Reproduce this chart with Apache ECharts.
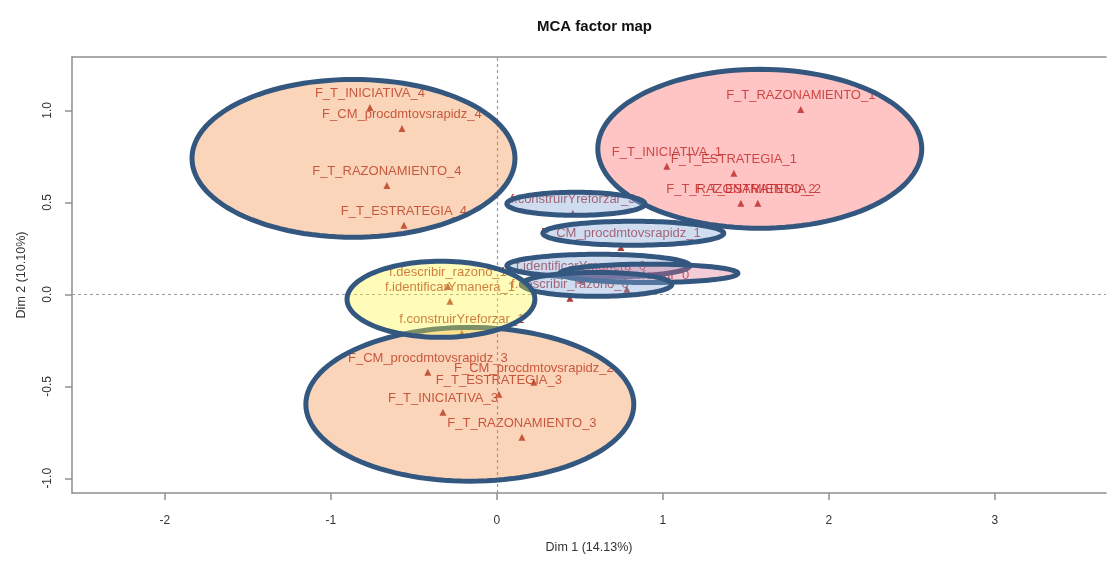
<!DOCTYPE html>
<html>
<head>
<meta charset="utf-8">
<title>MCA factor map</title>
<script src="https://cdn.jsdelivr.net/npm/echarts@6/dist/echarts.min.js"></script>
<style>
  html, body { margin: 0; padding: 0; background: #ffffff; }
  #chart { width: 1107px; height: 566px; }
</style>
</head>
<body>
<div id="chart"></div>
<script>
// Category modalities and their coordinates on the first two MCA dimensions
const categories = [
  'F_T_INICIATIVA_4', 'F_CM_procdmtovsrapidz_4', 'F_T_RAZONAMIENTO_4', 'F_T_ESTRATEGIA_4',
  'F_T_RAZONAMIENTO_1', 'F_T_INICIATIVA_1', 'F_T_ESTRATEGIA_1', 'F_T_RAZONAMIENTO_2', 'F_T_ESTRATEGIA_2',
  'f.construirYreforzar_3', 'F_CM_procdmtovsrapidz_1', 'f.identificarYmanera_0',
  'f.construirYreforzar_0', 'f.describir_razono_0',
  'f.describir_razono_1', 'f.identificarYmanera_1', 'f.construirYreforzar_1',
  'F_CM_procdmtovsrapidz_3', 'F_CM_procdmtovsrapidz_2', 'F_T_ESTRATEGIA_3',
  'F_T_INICIATIVA_3', 'F_T_RAZONAMIENTO_3'
];
const dim1 = [
  -0.765, -0.572, -0.663, -0.560,
  1.831, 1.024, 1.428, 1.470, 1.572,
  0.458, 0.747, 0.506,
  0.783, 0.440,
  -0.295, -0.283, -0.211,
  -0.416, 0.223, 0.012,
  -0.325, 0.151
];
const dim2 = [
  1.016, 0.902, 0.592, 0.375,
  1.005, 0.696, 0.658, 0.495, 0.495,
  0.440, 0.255, 0.076,
  0.027, -0.022,
  0.043, -0.038, -0.212,
  -0.424, -0.478, -0.543,
  -0.641, -0.777
];

// Groupings outlined as ellipses: centre (dim1, dim2) and semi-axes, in axis units
const ellipseCx = [-0.864, 1.584, -0.163, 0.476, 0.822, 0.611, 0.916, 0.602, -0.337];
const ellipseCy = [0.739, 0.791, -0.598, 0.492, 0.332, 0.155, 0.114, 0.054, -0.027];
const ellipseRx = [0.973, 0.976, 0.988, 0.416, 0.545, 0.551, 0.536, 0.452, 0.566];
const ellipseRy = [0.429, 0.432, 0.418, 0.0625, 0.065, 0.0625, 0.05, 0.065, 0.207];
const ellipseKind = ['peach', 'pink', 'peach', 'blue', 'blue', 'blue', 'rose', 'blue', 'yellow'];

// Axis ticks
const xTicks = [-2, -1, 0, 1, 2, 3];
const yTicks = [-1, -0.5, 0, 0.5, 1];

const ellipseFill = {
  peach: 'rgba(240, 136, 58, 0.35)',
  pink: 'rgba(255, 86, 86, 0.35)',
  blue: 'rgba(132, 162, 212, 0.38)',
  rose: 'rgba(222, 110, 140, 0.35)',
  yellow: 'rgba(255, 245, 60, 0.36)'
};

const pointData = categories.map((name, i) => [dim1[i], dim2[i], name]);
const ellipseData = ellipseCx.map((cx, i) => [cx, ellipseCy[i], ellipseRx[i], ellipseRy[i], i]);

const axisGray = '#8f8f8f';
const textGray = '#333333';
const font = 'Liberation Sans, Arial, sans-serif';

const chart = echarts.init(document.getElementById('chart'), null, { renderer: 'canvas' });

chart.setOption({
  backgroundColor: '#ffffff',
  animation: false,
  title: {
    text: 'MCA factor map',
    left: 532,
    top: 14,
    textStyle: { fontFamily: font, fontSize: 15, fontWeight: 'bold', color: '#111111' }
  },
  grid: {
    left: 72,
    top: 57,
    right: 1,
    bottom: 73,
    show: false
  },
  xAxis: [
    {
      type: 'value',
      min: -2.56,
      max: 3.67,
      name: 'Dim 1 (14.13%)',
      nameLocation: 'middle',
      nameGap: 48,
      nameTextStyle: { fontFamily: font, fontSize: 12.5, color: textGray },
      axisLine: { show: true, onZero: false, lineStyle: { color: axisGray, width: 1.5 } },
      axisTick: { show: true, length: 7, customValues: xTicks, lineStyle: { color: axisGray, width: 1.5 } },
      axisLabel: {
        customValues: xTicks,
        margin: 22,
        fontFamily: font,
        fontSize: 12,
        color: textGray,
        formatter: v => String(v)
      },
      splitLine: { show: false }
    },
    {
      // upper frame line of the plotting box
      type: 'value',
      position: 'top',
      min: -2.56,
      max: 3.67,
      axisLine: { show: true, onZero: false, lineStyle: { color: axisGray, width: 1.5 } },
      axisTick: { show: false },
      axisLabel: { show: false },
      splitLine: { show: false }
    }
  ],
  yAxis: {
    type: 'value',
    min: -1.08,
    max: 1.29,
    name: 'Dim 2 (10.10%)',
    nameLocation: 'middle',
    nameGap: 44,
    nameTextStyle: { fontFamily: font, fontSize: 12.5, color: textGray },
    axisLine: { show: true, onZero: false, lineStyle: { color: axisGray, width: 1.5 } },
    axisTick: { show: true, length: 7, customValues: yTicks, lineStyle: { color: axisGray, width: 1.5 } },
    axisLabel: {
      customValues: yTicks,
      rotate: 90,
      margin: 18,
      fontFamily: font,
      fontSize: 12,
      color: textGray,
      formatter: v => Number(v).toFixed(1)
    },
    splitLine: { show: false }
  },
  series: [
    {
      type: 'scatter',
      data: pointData,
      symbol: 'triangle',
      symbolSize: 7,
      z: 2,
      itemStyle: { color: '#960e0e' },
      label: {
        show: true,
        position: 'top',
        distance: 4,
        fontFamily: font,
        fontSize: 13,
        color: '#a00c0c',
        formatter: p => p.data[2]
      },
      emphasis: { disabled: true },
      markLine: {
        silent: true,
        symbol: 'none',
        label: { show: false },
        lineStyle: { color: '#9a9a9a', type: [3, 3], width: 1.2 },
        data: [{ xAxis: 0 }, { yAxis: 0 }]
      }
    },
    {
      type: 'custom',
      data: ellipseData,
      encode: { x: 0, y: 1 },
      z: 5,
      silent: true,
      renderItem: (params, api) => {
        const c = api.coord([api.value(0), api.value(1)]);
        const s = api.size([api.value(2), api.value(3)]);
        const pts = [];
        const n = 120;
        for (let k = 0; k < n; k++) {
          const t = (k / n) * Math.PI * 2;
          pts.push([c[0] + s[0] * Math.cos(t), c[1] + s[1] * Math.sin(t)]);
        }
        return {
          type: 'polygon',
          shape: { points: pts },
          style: {
            fill: ellipseFill[ellipseKind[api.value(4)]],
            stroke: '#34577f',
            lineWidth: 5
          }
        };
      }
    }
  ]
});
</script>
</body>
</html>
